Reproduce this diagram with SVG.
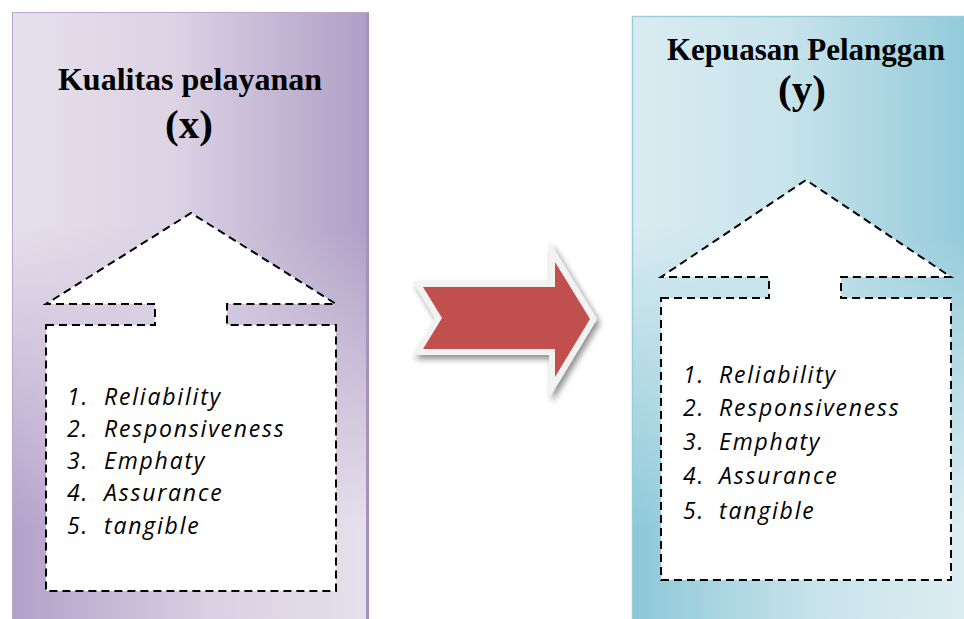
<svg xmlns="http://www.w3.org/2000/svg" width="964" height="619" viewBox="0 0 964 619">
  <style>
    .title { font-family: "Liberation Serif", "Times New Roman", serif; font-weight: bold; fill: #000; text-anchor: middle; }
    .callout { fill: #ffffff; stroke: #000; stroke-width: 2; stroke-dasharray: 8 5; }
    .item { font-family: "Open Sans", "Liberation Sans", sans-serif; font-style: italic; font-size: 23px; letter-spacing: 1.8px; fill: #000; }
  </style>
  <defs>
    <linearGradient id="pA" x1="0" y1="0" x2="1" y2="0">
      <stop offset="0" stop-color="#e6e0ec"/>
      <stop offset="0.45" stop-color="#dcd3e5"/>
      <stop offset="1" stop-color="#b09ec6"/>
    </linearGradient>
    <linearGradient id="pB" x1="0" y1="0" x2="1" y2="0">
      <stop offset="0" stop-color="#b3a0c9"/>
      <stop offset="0.55" stop-color="#d9d0e3"/>
      <stop offset="1" stop-color="#e6e1ec"/>
    </linearGradient>
    <linearGradient id="tA" x1="0" y1="0" x2="1" y2="0">
      <stop offset="0" stop-color="#d9ecf1"/>
      <stop offset="0.45" stop-color="#c9e4ec"/>
      <stop offset="1" stop-color="#93cbda"/>
    </linearGradient>
    <linearGradient id="tB" x1="0" y1="0" x2="1" y2="0">
      <stop offset="0" stop-color="#8cc8d8"/>
      <stop offset="0.55" stop-color="#c8e3eb"/>
      <stop offset="1" stop-color="#dcedf2"/>
    </linearGradient>
    <linearGradient id="vm" x1="0" y1="0" x2="0" y2="1">
      <stop offset="0.35" stop-color="#000"/>
      <stop offset="0.85" stop-color="#fff"/>
    </linearGradient>
    <mask id="mL" maskUnits="userSpaceOnUse" x="0" y="0" width="964" height="619">
      <rect x="12" y="12" width="357" height="607" fill="url(#vm)"/>
    </mask>
    <mask id="mR" maskUnits="userSpaceOnUse" x="0" y="0" width="964" height="619">
      <rect x="632" y="16" width="332" height="603" fill="url(#vm)"/>
    </mask>
    <filter id="sh" x="-20%" y="-20%" width="150%" height="150%">
      <feGaussianBlur in="SourceAlpha" stdDeviation="3"/>
      <feOffset dx="3" dy="4" result="b"/>
      <feComponentTransfer><feFuncA type="linear" slope="0.45"/></feComponentTransfer>
      <feMerge><feMergeNode/><feMergeNode in="SourceGraphic"/></feMerge>
    </filter>
  </defs>
  <rect width="964" height="619" fill="#ffffff"/>

  <g id="node-x">
    <rect x="12" y="12" width="357" height="607" fill="url(#pA)"/>
    <rect x="12" y="12" width="357" height="607" fill="url(#pB)" mask="url(#mL)"/>
    <rect x="12.5" y="12.5" width="355" height="607" fill="none" stroke="#b8a9cc" stroke-width="1"/>
    <rect x="366" y="13" width="3" height="606" fill="#a592bd"/>
    <text class="title" x="190" y="90" font-size="32">Kualitas pelayanan</text>
    <text class="title" x="189" y="138" font-size="41">(x)</text>
    <path class="callout" d="M46,325 H155 V304 H46 L191,213 L336,304 H227 V325 H336 V591 H46 Z"/>
    <text class="item">
      <tspan x="67" y="405">1.</tspan><tspan x="104" y="405">Reliability</tspan>
      <tspan x="67" y="437">2.</tspan><tspan x="104" y="437">Responsiveness</tspan>
      <tspan x="67" y="469">3.</tspan><tspan x="104" y="469">Emphaty</tspan>
      <tspan x="67" y="501">4.</tspan><tspan x="104" y="501">Assurance</tspan>
      <tspan x="67" y="534">5.</tspan><tspan x="104" y="534">tangible</tspan>
    </text>
  </g>

  <g id="node-y">
    <rect x="632" y="16" width="332" height="603" fill="url(#tA)"/>
    <rect x="632" y="16" width="332" height="603" fill="url(#tB)" mask="url(#mR)"/>
    <rect x="632.5" y="16.5" width="340" height="610" fill="none" stroke="#98cedc" stroke-width="1.5"/>
    <text class="title" x="806" y="60" font-size="31">Kepuasan Pelanggan</text>
    <text class="title" x="802" y="103" font-size="41">(y)</text>
    <path class="callout" d="M661,298 H769 V277 H661 L806,180 L951,277 H841 V298 H951 V580 H661 Z"/>
    <text class="item">
      <tspan x="683" y="383">1.</tspan><tspan x="719" y="383">Reliability</tspan>
      <tspan x="683" y="416">2.</tspan><tspan x="719" y="416">Responsiveness</tspan>
      <tspan x="683" y="450">3.</tspan><tspan x="719" y="450">Emphaty</tspan>
      <tspan x="683" y="484">4.</tspan><tspan x="719" y="484">Assurance</tspan>
      <tspan x="683" y="519">5.</tspan><tspan x="719" y="519">tangible</tspan>
    </text>
  </g>

  <g id="connectors">
    <path d="M423,287 H555 V262 L590,319 L555,377 V349 H423 L442,318 Z" fill="#c0504d" stroke="#f2f2f2" stroke-width="12" stroke-linejoin="miter" stroke-miterlimit="10" paint-order="stroke" filter="url(#sh)"/>
  </g>
</svg>
